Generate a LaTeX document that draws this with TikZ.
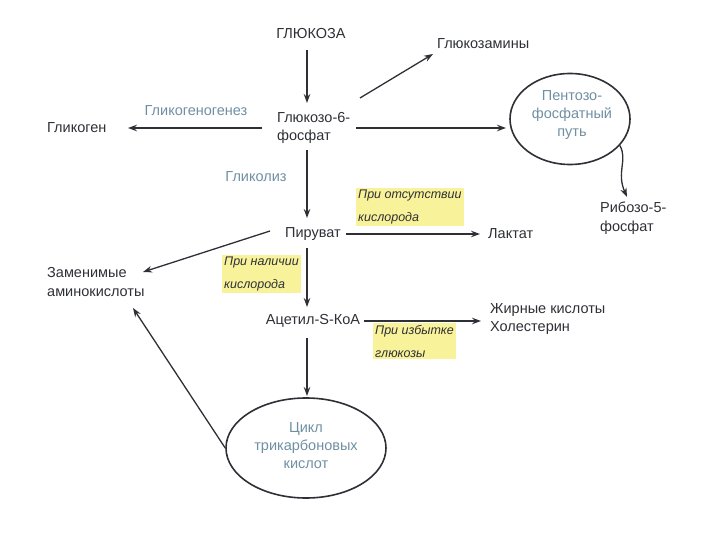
\documentclass[tikz,border=0pt]{standalone}
\usepackage{fontspec}
\setmainfont{Liberation Sans}
\usetikzlibrary{arrows.meta,shapes.geometric}
\definecolor{txt}{HTML}{2E3036}
\definecolor{blu}{HTML}{6F8FA3}
\definecolor{hl}{HTML}{F8F29A}
\tikzset{
  lbl/.style={font=\fontsize{14.5}{18.5}\selectfont, text=txt, inner sep=1pt, align=left},
  blab/.style={font=\fontsize{14.5}{18}\selectfont, text=blu, inner sep=1pt, align=center},
  note/.style={font=\fontsize{12.5}{23}\selectfont\itshape, text=txt, fill=hl, inner sep=2pt, align=left},
  arr/.style={draw=txt, line width=1.3pt, -{Stealth[length=9pt,width=6.5pt]}},
  oval/.style={draw=txt, line width=1.6pt, ellipse}
}
\begin{document}
\begin{tikzpicture}[x=1pt,y=-1pt]
\useasboundingbox (0,0) rectangle (720,540);
\node[lbl] (glu) at (311,34) {ГЛЮКОЗА};
\node[lbl, anchor=west] (gam) at (436,44) {Глюкозамины};
\node[lbl, anchor=west] (g6p) at (276,128) {Глюкозо-6-\\фосфат};
\node[lbl, anchor=west] (gly) at (46,128) {Гликоген};
\node[blab] (glg) at (196,111) {Гликогеногенез};
\node[oval, minimum width=120pt, minimum height=91pt] (ppp) at (570,119) {};
\node[blab] at (572,115) {Пентозо-\\фосфатный\\путь};
\node[lbl, anchor=west] (r5p) at (599,218) {Рибозо-5-\\фосфат};
\node[blab] at (256,177) {Гликолиз};
\node[lbl] (pyr) at (313,234) {Пируват};
\node[lbl, anchor=west] (lac) at (487,234) {Лактат};
\node[lbl, anchor=west] (aa) at (46,282) {Заменимые\\аминокислоты};
\node[lbl] (acoa) at (313,321) {Ацетил-S-КоА};
\node[lbl, anchor=west] (fa) at (489,319) {Жирные кислоты\\Холестерин};
\node[oval, minimum width=160pt, minimum height=100pt] (tca) at (306,448) {};
\node[blab] at (306,446) {Цикл\\трикарбоновых\\кислот};
% notes
\node[note, anchor=north west] (n1) at (356,188) {При отсутствии\\кислорода};
\node[note, anchor=north west] (n2) at (222,255) {При наличии\\кислорода};
\node[note, anchor=north west] (n3) at (373,323) {При избытке\\глюкозы};
% arrow ends
\coordinate (c1) at (307,50);   \coordinate (e1) at (307,103);
\coordinate (c2) at (360,98);   \coordinate (e2) at (433,54);
\coordinate (c3) at (262,128);  \coordinate (e3) at (128,128);
\coordinate (c4) at (356,128);  \coordinate (e4) at (506,128);
\coordinate (c5) at (307,150);  \coordinate (e5) at (307,218);
\coordinate (c6) at (346,234);  \coordinate (e6) at (480,234);
\coordinate (c7) at (270,231);  \coordinate (e7) at (143,272);
\coordinate (c8) at (307,248);  \coordinate (e8) at (307,307);
\coordinate (c9) at (364,321);  \coordinate (e9) at (481,321);
\coordinate (c10) at (307,338); \coordinate (e10) at (307,396);
\coordinate (e11) at (133,308);
\coordinate (e12) at (627,197);
% arrows
\draw[arr] (c1) -- (e1);
\draw[arr] (c2) -- (e2);
\draw[arr] (c3) -- (e3);
\draw[arr] (c4) -- (e4);
\draw[arr] (ppp.-28) .. controls (628,160) and (616,172) .. (e12);
\draw[arr] (c5) -- (e5);
\draw[arr] (c6) -- (e6);
\draw[arr] (c7) -- (e7);
\draw[arr] (c8) -- (e8);
\draw[arr] (c9) -- (e9);
\draw[arr] (c10) -- (e10);
\draw[arr] (tca.west) -- (e11);
\end{tikzpicture}
\end{document}
